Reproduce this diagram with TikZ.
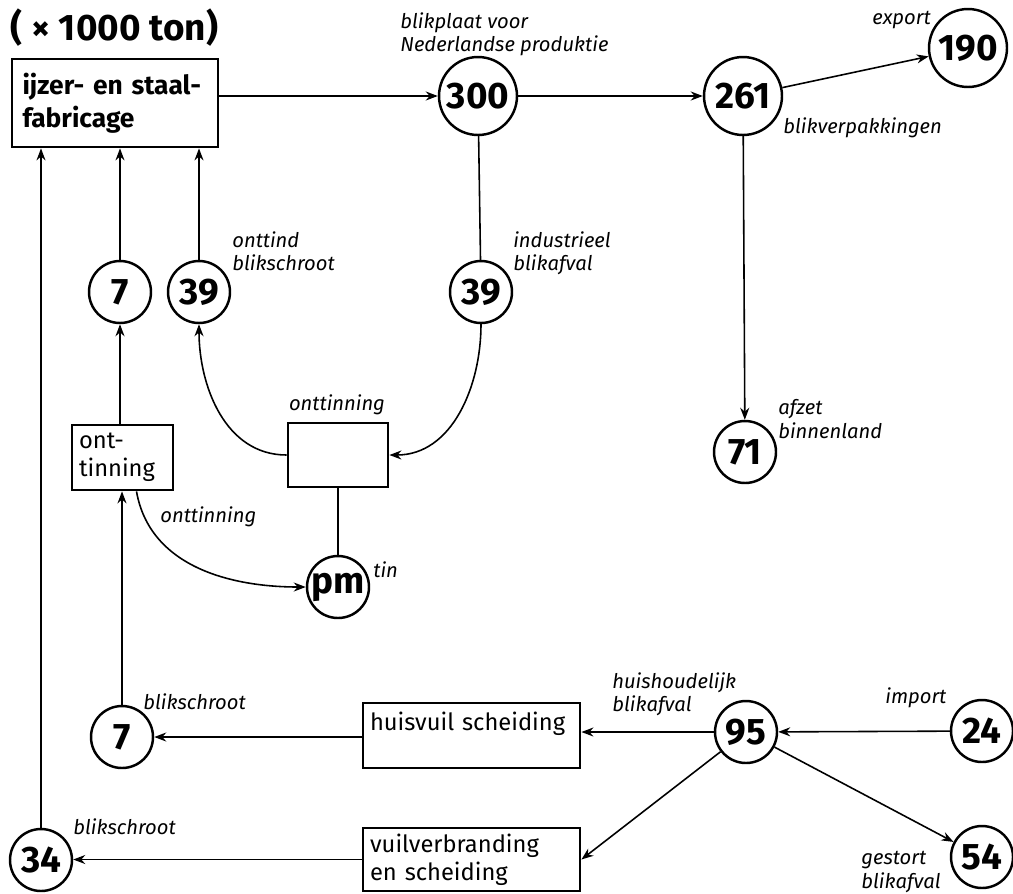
\documentclass[tikz,border=0pt]{standalone}
\usepackage{fontspec}
\setmainfont{Fira Sans}
\usepackage{tikz}
\usetikzlibrary{positioning,arrows.meta,calc}

\begin{document}
\begin{tikzpicture}[x=0.02cm, y=-0.02cm,
  val/.style={circle, draw, line width=1.4pt, minimum size=1.24cm, inner sep=0pt, font=\fontsize{21}{24}\selectfont\bfseries},
  bigval/.style={val, minimum size=1.56cm},
  box/.style={rectangle, draw, line width=1.6pt, align=left, inner xsep=4pt, inner ysep=2pt, font=\fontsize{13.5}{16}\selectfont},
  lbl/.style={align=left, inner sep=0pt, font=\fontsize{11.5}{13.5}\selectfont\itshape},
  arrow/.style={-{Stealth[length=2.4mm, width=1.8mm]}, line width=0.9pt},
  line/.style={line width=0.9pt}
]
  \useasboundingbox (0,0) rectangle (1013,893);

  \node[anchor=west, inner sep=0pt, font=\fontsize{21}{24}\selectfont\bfseries] (unit) at (10,28) {( × 1000 ton)};

  \node[box, inner xsep=6pt, text width=3.7cm, minimum height=1.76cm, font=\fontsize{15}{19}\selectfont\bfseries] (staal) at (115,103) {ijzer- en staal-\\fabricage};
  \node[box, text width=1.74cm, minimum height=1.3cm] (ontbox) at (122.5,457.5) {ont-\\tinning};
  \node[box, minimum width=2cm, minimum height=1.28cm] (midbox) at (338,455) {};
  \node[box, text width=4.06cm, minimum height=1.3cm] (huisbox) at (471.5,735.5) {huisvuil scheiding\\\mbox{}};
  \node[box, text width=4.06cm, minimum height=1.26cm] (vuilbox) at (471.5,859.5) {vuilverbranding\\en scheiding};

  \node[bigval] (n300) at (478,96) {300};
  \node[bigval] (n261) at (743,96) {261};
  \node[bigval] (n190) at (968,48) {190};
  \node[val] (n7a) at (120,292) {7};
  \node[val] (n39a) at (199,292) {39};
  \node[val] (n39b) at (481,292) {39};
  \node[val] (n71) at (745,452) {71};
  \node[val] (npm) at (338,587) {pm};
  \node[val] (n7b) at (122,737) {7};
  \node[val] (n95) at (746,732) {95};
  \node[val] (n24) at (982,731) {24};
  \node[val] (n54) at (982,857) {54};
  \node[val] (n34) at (41,860) {34};

  \node[lbl, anchor=north west] (lplaat) at (400,12) {blikplaat voor\\Nederlandse produktie};
  \node[lbl, anchor=west] (lexport) at (872,20) {export};
  \node[lbl, anchor=west] (lverpak) at (783,128) {blikverpakkingen};
  \node[lbl, anchor=north west] (lonttind) at (232,231) {onttind\\blikschroot};
  \node[lbl, anchor=north west] (lindus) at (513,231) {industrieel\\blikafval};
  \node[lbl] (lontmid) at (337,405) {onttinning};
  \node[lbl, anchor=north west] (lafzet) at (778,399) {afzet\\binnenland};
  \node[lbl, anchor=west] (lontlow) at (160,517) {onttinning};
  \node[lbl, anchor=west] (ltin) at (373,570) {tin};
  \node[lbl, anchor=west] (lschroot7) at (143,702) {blikschroot};
  \node[lbl, anchor=west] (lschroot34) at (73,827) {blikschroot};
  \node[lbl, anchor=north west] (lhuis) at (612,672) {huishoudelijk\\blikafval};
  \node[lbl, anchor=west] (limport) at (885,698) {import};
  \node[lbl, anchor=north west] (lgestort) at (861,851) {gestort\\blikafval};

  \draw[arrow] (staal.east |- n300) -- (n300);
  \draw[arrow] (n300) -- (n261);
  \draw[arrow] (n261) -- (n190);
  \draw[arrow] (n261) -- (n71);
  \draw[line] (n300) -- (n39b);
  \draw[arrow] (n39b.south) to[out=-90, in=0] (midbox.east);
  \draw[arrow] (midbox.west) to[out=180, in=-90] (n39a.south);
  \draw[arrow] (n39a) -- (n39a |- staal.south);
  \draw[arrow] (n7a) -- (n7a |- staal.south);
  \draw[arrow] (ontbox.north -| n7a) -- (n7a);
  \draw[line] (midbox) -- (npm);
  \draw[arrow] ([xshift=0.28cm]ontbox.south) to[out=-80, in=180] (npm.west);
  \draw[arrow] (n7b) -- (n7b |- ontbox.south);
  \draw[arrow] (huisbox.west |- n7b) -- (n7b);
  \draw[arrow] (n95.west) -- (n95.west -| huisbox.east);
  \draw[arrow] (n24) -- (n95);
  \draw[arrow] (n95) -- (vuilbox.east);
  \draw[arrow] (n95) -- (n54);
  \draw[arrow] (vuilbox.west) -- (vuilbox.west -| n34.east);
  \draw[arrow] (n34) -- (n34 |- staal.south);
\end{tikzpicture}
\end{document}
